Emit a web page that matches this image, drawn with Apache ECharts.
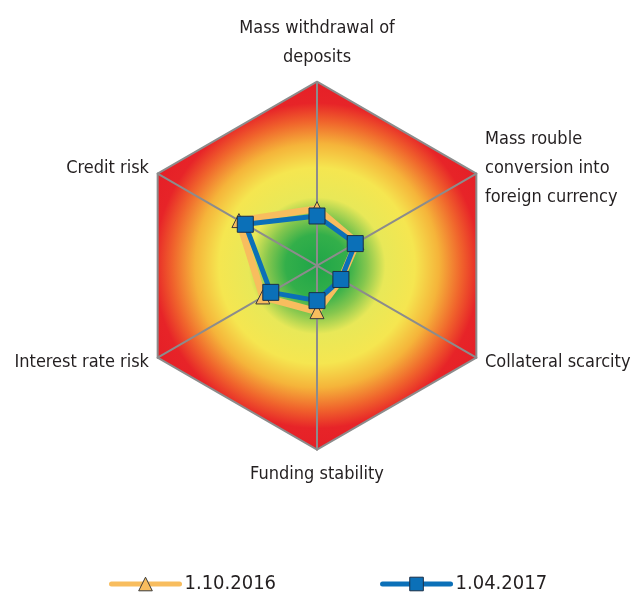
<!DOCTYPE html>
<html>
<head>
<meta charset="utf-8">
<title>Risk map</title>
<script src="https://cdn.jsdelivr.net/npm/echarts@6/dist/echarts.min.js"></script>
<style>
  html, body { margin: 0; padding: 0; background: #fff; }
  #main { width: 634px; height: 597px; }
</style>
</head>
<body>
<div id="main"></div>
<script>
// radar axes, counter-clockwise from the top (ECharts order)
var indicatorNames = [
  'Mass withdrawal of\ndeposits',
  'Credit risk',
  'Interest rate risk',
  'Funding stability',
  'Collateral scarcity',
  'Mass rouble\nconversion into\nforeign currency'
];
var seriesNames = ['1.10.2016', '1.04.2017'];
var values2016 = [0.31, 0.49, 0.34, 0.25, 0.15, 0.25];
var values2017 = [0.27, 0.45, 0.29, 0.19, 0.15, 0.24];
var axisMax = 1;

var labelFont = 'DejaVu Sans Condensed, Liberation Sans Narrow, sans-serif';
var orange = '#f8bd5e';
var blue = '#0b70b8';

var myChart = echarts.init(document.getElementById('main'));

// green in the middle -> yellow -> red at the edge
var riskFill = new echarts.graphic.RadialGradient(0.5, 0.5, 0.58, [
  { offset: 0, color: '#1fa548' },
  { offset: 0.17, color: '#33af4a' },
  { offset: 0.27, color: '#86c74e' },
  { offset: 0.37, color: '#e8e858' },
  { offset: 0.53, color: '#f5e650' },
  { offset: 0.66, color: '#f5b43a' },
  { offset: 0.78, color: '#f0642c' },
  { offset: 0.88, color: '#e72428' },
  { offset: 1, color: '#e51f27' }
]);

var option = {
  animation: false,
  // hidden grid: only used so the legend gets line + marker icons
  grid: { show: false, left: 0, top: 0, width: 1, height: 1 },
  xAxis: { show: false },
  yAxis: { show: false },
  legend: {
    data: seriesNames,
    left: 104,
    top: 569,
    itemWidth: 68,
    itemHeight: 17,
    itemGap: 104,
    lineStyle: { width: 5, cap: 'round' },
    itemStyle: { borderWidth: 1 },
    textStyle: {
      fontFamily: labelFont,
      fontSize: 20,
      color: '#231f20'
    }
  },
  radar: {
    center: ['50%', '44.5%'],
    radius: 184,
    startAngle: 90,
    shape: 'polygon',
    splitNumber: 1,
    nameGap: 10,
    indicator: indicatorNames.map(function (n) {
      return { name: n, min: 0, max: axisMax };
    }),
    axisName: {
      color: '#231f20',
      fontFamily: labelFont,
      fontSize: 18,
      lineHeight: 29
    },
    axisLine: { lineStyle: { color: '#8c8c8c', width: 2 } },
    splitLine: { lineStyle: { color: '#8c8c8c', width: 2 } },
    splitArea: { show: true, areaStyle: { color: [riskFill] } }
  },
  series: [
    {
      type: 'radar',
      data: [
        {
          name: seriesNames[0],
          value: values2016,
          symbol: 'triangle',
          symbolSize: 14,
          lineStyle: { color: orange, width: 7 },
          itemStyle: { color: orange, borderColor: '#3a3a3a', borderWidth: 1 }
        },
        {
          name: seriesNames[1],
          value: values2017,
          symbol: 'rect',
          symbolSize: 16,
          lineStyle: { color: blue, width: 5 },
          itemStyle: { color: blue, borderColor: '#1b2f47', borderWidth: 1 }
        }
      ]
    },
    // legend-only series (no data)
    {
      name: seriesNames[0],
      type: 'line',
      data: [],
      symbol: 'triangle',
      lineStyle: { color: orange, width: 5, cap: 'round' },
      itemStyle: { color: orange, borderColor: '#3a3a3a', borderWidth: 1 }
    },
    {
      name: seriesNames[1],
      type: 'line',
      data: [],
      symbol: 'rect',
      lineStyle: { color: blue, width: 5, cap: 'round' },
      itemStyle: { color: blue, borderColor: '#1b2f47', borderWidth: 1 }
    }
  ]
};

myChart.setOption(option);
</script>
</body>
</html>
